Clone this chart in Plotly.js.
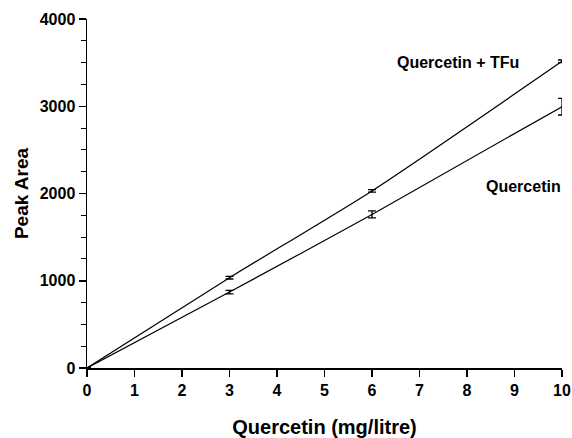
<!DOCTYPE html>
<html><head><meta charset="utf-8">
<script src="https://cdn.plot.ly/plotly-3.0.1.min.js"></script>
<style>html,body{margin:0;padding:0;background:#fff}#chart{width:572px;height:438px}</style>
</head><body><div id="chart"></div>
<script>
const conc = [0, 3, 6, 10];
const tfuArea = [0, 1035, 2030, 3515];
const tfuErr = [0, 15, 15, 15];
const querArea = [0, 870, 1760, 2995];
const querErr = [0, 20, 40, 95];
const xTicks = [0,1,2,3,4,5,6,7,8,9,10];
const yTicks = [0,1000,2000,3000,4000];

const font = {family: 'Liberation Sans, Arial, sans-serif', color: '#000'};
function series(y, e) {
  return {
    x: conc, y: y, type: 'scatter', mode: 'lines',
    line: {color: '#000', width: 1.2, shape: 'spline', smoothing: 0.6},
    error_y: {type: 'data', array: e, visible: true, color: '#000', thickness: 1.3, width: 4},
    cliponaxis: false, showlegend: false, hoverinfo: 'none'
  };
}
const data = [series(tfuArea, tfuErr), series(querArea, querErr)];
const layout = {
  width: 572, height: 438,
  margin: {l: 87, r: 10, t: 19, b: 70},
  paper_bgcolor: '#fff', plot_bgcolor: '#fff',
  font: Object.assign({}, font, {size: 16, weight: 'bold'}),
  xaxis: {
    range: [0, 10], tickvals: xTicks, ticktext: xTicks.map(String),
    showgrid: false, zeroline: false, showline: true, linecolor: '#000', linewidth: 2,
    ticks: 'outside', ticklen: 7, tickwidth: 1.5, tickcolor: '#000',
    tickfont: Object.assign({}, font, {size: 16, weight: 'bold'}),
    title: {text: '<b>Quercetin (mg/litre)</b>', font: Object.assign({}, font, {size: 20}), standoff: 24}
  },
  yaxis: {
    range: [0, 4000], tickvals: yTicks, ticktext: yTicks.map(String),
    showgrid: false, zeroline: false, showline: true, linecolor: '#000', linewidth: 1.5,
    ticks: 'outside', ticklen: 7, tickwidth: 1.5, tickcolor: '#000',
    minor: {dtick: 250, ticks: 'outside', ticklen: 5, tickwidth: 1, tickcolor: '#000', showgrid: false},
    tickfont: Object.assign({}, font, {size: 16, weight: 'bold'}),
    title: {text: '<b>Peak Area</b>', font: Object.assign({}, font, {size: 19}), standoff: 6}
  },
  annotations: [
    {x: 458, y: 63, text: '<b>Quercetin + TFu</b>'},
    {x: 523, y: 186, text: '<b>Quercetin</b>'}
  ]
};
// convert pixel annotation positions into paper coordinates
const pw = 572 - 87 - 10, ph = 438 - 19 - 70;
layout.annotations.forEach(a => {
  a.x = (a.x - 87) / pw; a.y = (438 - 70 - a.y) / ph;
  a.xref = 'paper'; a.yref = 'paper'; a.showarrow = false;
  a.xanchor = 'center'; a.yanchor = 'middle';
  a.font = Object.assign({}, font, {size: 16});
});
Plotly.newPlot('chart', data, layout, {staticPlot: true});
</script></body></html>
